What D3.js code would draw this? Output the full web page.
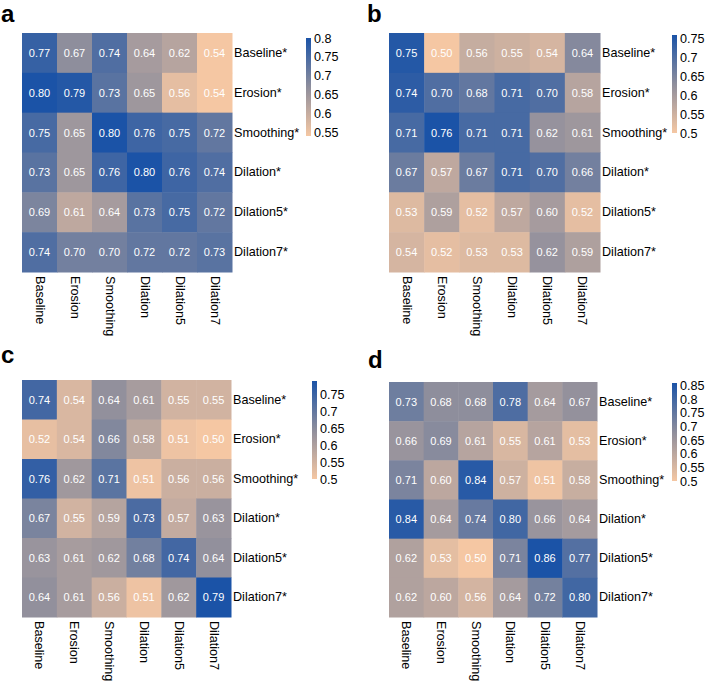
<!DOCTYPE html>
<html><head><meta charset="utf-8">
<script src="https://cdn.jsdelivr.net/npm/d3@7"></script>
<style>body{margin:0;background:#fff}svg{display:block}</style>
</head><body>
<svg id="chart" width="709" height="682"></svg>
<script>
const colLabels = ["Baseline","Erosion","Smoothing","Dilation","Dilation5","Dilation7"];
const rowLabels = ["Baseline*","Erosion*","Smoothing*","Dilation*","Dilation5*","Dilation7*"];
const panelLetters = ["a","b","c","d"];

const valuesA = [
  [0.77,0.67,0.74,0.64,0.62,0.54],
  [0.80,0.79,0.73,0.65,0.56,0.54],
  [0.75,0.65,0.80,0.76,0.75,0.72],
  [0.73,0.65,0.76,0.80,0.76,0.74],
  [0.69,0.61,0.64,0.73,0.75,0.72],
  [0.74,0.70,0.70,0.72,0.72,0.73]];
const valuesB = [
  [0.75,0.50,0.56,0.55,0.54,0.64],
  [0.74,0.70,0.68,0.71,0.70,0.58],
  [0.71,0.76,0.71,0.71,0.62,0.61],
  [0.67,0.57,0.67,0.71,0.70,0.66],
  [0.53,0.59,0.52,0.57,0.60,0.52],
  [0.54,0.52,0.53,0.53,0.62,0.59]];
const valuesC = [
  [0.74,0.54,0.64,0.61,0.55,0.55],
  [0.52,0.54,0.66,0.58,0.51,0.50],
  [0.76,0.62,0.71,0.51,0.56,0.56],
  [0.67,0.55,0.59,0.73,0.57,0.63],
  [0.63,0.61,0.62,0.68,0.74,0.64],
  [0.64,0.61,0.56,0.51,0.62,0.79]];
const valuesD = [
  [0.73,0.68,0.68,0.78,0.64,0.67],
  [0.66,0.69,0.61,0.55,0.61,0.53],
  [0.71,0.60,0.84,0.57,0.51,0.58],
  [0.84,0.64,0.74,0.80,0.66,0.64],
  [0.62,0.53,0.50,0.71,0.86,0.77],
  [0.62,0.60,0.56,0.64,0.72,0.80]];

const ticksA = [0.55,0.6,0.65,0.7,0.75,0.8];
const ticksB = [0.5,0.55,0.6,0.65,0.7,0.75];
const ticksC = [0.5,0.55,0.6,0.65,0.7,0.75];
const ticksD = [0.5,0.55,0.6,0.65,0.7,0.75,0.8,0.85];

const colorLow = "#f5c7a3", colorMid = "#8e8e9c", colorHigh = "#1b53a7";

const layouts = [
  {x0:22, x1:232, y0:33, y1:272, lx:1, ly:22, cbx:306, cby:38},
  {x0:389, x1:600, y0:33, y1:272, lx:367, ly:22, cbx:672, cby:35},
  {x0:22, x1:231, y0:380, y1:617, lx:1, ly:363, cbx:312, cby:381},
  {x0:389, x1:597, y0:382, y1:617, lx:368, ly:368, cbx:672, cby:383}
];
const panels = [valuesA, valuesB, valuesC, valuesD];
const tickSets = [ticksA, ticksB, ticksC, ticksD];

const svg = d3.select("#chart");
const font = "'Liberation Sans', Arial, sans-serif";
const fmt = d3.format(".2f");
const tfmt = d3.format("~g");

panels.forEach((vals, pi) => {
  const L = layouts[pi];
  const flat = vals.flat();
  const lo = d3.min(flat), hi = d3.max(flat);
  const color = d3.scaleLinear().domain([lo, (lo+hi)/2, hi]).range([colorLow, colorMid, colorHigh]).interpolate(d3.interpolateRgb);
  const x = d3.scaleBand().domain(colLabels).range([L.x0, L.x1]);
  const y = d3.scaleBand().domain(rowLabels).range([L.y0, L.y1]);
  const g = svg.append("g");

  g.append("text").attr("x", L.lx).attr("y", L.ly).text(panelLetters[pi])
    .attr("font-family", font).attr("font-weight", "bold").attr("font-size", 24).attr("fill", "#000");

  const cells = [];
  vals.forEach((row, ri) => row.forEach((v, ci) => cells.push({r: rowLabels[ri], c: colLabels[ci], v})));

  g.selectAll("rect.cell").data(cells).join("rect").attr("class","cell")
    .attr("x", d => x(d.c)).attr("y", d => y(d.r))
    .attr("width", x.bandwidth() + 0.5).attr("height", y.bandwidth() + 0.5)
    .attr("fill", d => color(d.v));

  g.selectAll("text.val").data(cells).join("text").attr("class","val")
    .attr("x", d => x(d.c) + x.bandwidth()/2).attr("y", d => y(d.r) + y.bandwidth()/2)
    .attr("text-anchor","middle").attr("dominant-baseline","central")
    .attr("font-family", font).attr("font-size", 11).attr("fill", "#fff")
    .text(d => fmt(d.v));

  // row labels (right axis)
  const yAxis = d3.axisRight(y).tickSize(0).tickPadding(2);
  const ya = g.append("g").attr("transform", `translate(${L.x1},0)`).call(yAxis);
  ya.select(".domain").remove();
  ya.selectAll("text").attr("font-family", font).attr("font-size", 12.6).attr("fill","#000");

  // column labels (bottom axis, rotated)
  const xAxis = d3.axisBottom(x).tickSize(0).tickPadding(0);
  const xa = g.append("g").attr("transform", `translate(0,${L.y1})`).call(xAxis);
  xa.select(".domain").remove();
  xa.selectAll("text").attr("font-family", font).attr("font-size", 12.6).attr("fill","#000")
    .attr("text-anchor","start").attr("dy", null)
    .attr("transform","translate(0,4) rotate(90)").attr("x", 0).attr("y", 0)
    .attr("dominant-baseline","central");

  // colorbar
  const barH = 98, barW = 5;
  const cy = d3.scaleLinear().domain([lo, hi]).range([L.cby + barH, L.cby]);
  const gid = "grad" + pi;
  const grad = svg.append("defs").append("linearGradient").attr("id", gid)
    .attr("x1","0").attr("y1","1").attr("x2","0").attr("y2","0");
  d3.range(0, 1.0001, 0.1).forEach(t => {
    grad.append("stop").attr("offset", t).attr("stop-color", color(lo + t*(hi-lo)));
  });
  g.append("rect").attr("x", L.cbx).attr("y", L.cby).attr("width", barW).attr("height", barH)
    .attr("fill", `url(#${gid})`);
  const cAxis = d3.axisRight(cy).tickValues(tickSets[pi]).tickSize(0).tickPadding(3).tickFormat(tfmt);
  const ca = g.append("g").attr("transform", `translate(${L.cbx + barW},0)`).call(cAxis);
  ca.select(".domain").remove();
  ca.selectAll("text").attr("font-family", font).attr("font-size", 12.6).attr("fill","#000");
});
</script>
</body></html>
